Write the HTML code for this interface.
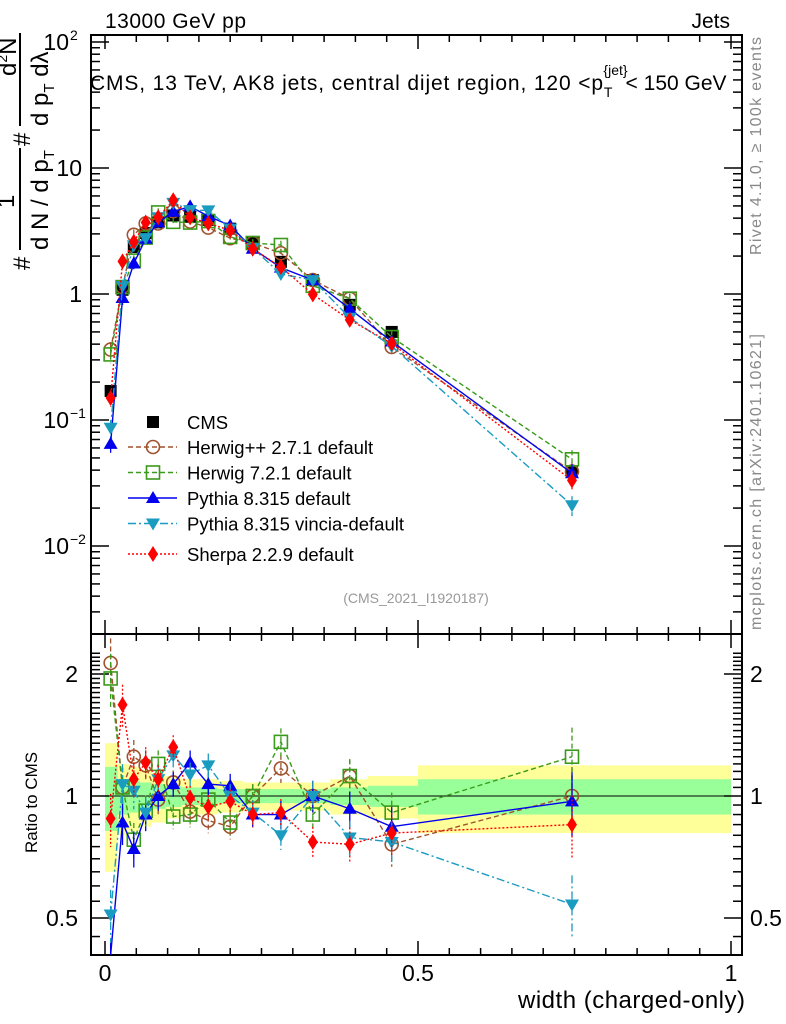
<!DOCTYPE html>
<html><head><meta charset="utf-8"><style>
body{margin:0;background:#fff;}
svg{display:block;font-family:"Liberation Sans",sans-serif;}
</style></head><body>
<svg id="c" width="786" height="1024" viewBox="0 0 786 1024">
<g id="bands"></g>
<g id="grid"></g>
<g id="series"></g>
<text x="105" y="28" font-size="21" textLength="141">13000 GeV pp</text>
<text x="730" y="28" font-size="21" text-anchor="end">Jets</text>
<text x="90" y="90" font-size="21"><tspan textLength="513">CMS, 13 TeV, AK8 jets, central dijet region, 120 &lt;p</tspan><tspan font-size="14" dy="7">T</tspan><tspan font-size="14" dy="-22" dx="-9">{jet}</tspan><tspan dy="15" dx="-2">&lt; 150 GeV</tspan></text>
<text x="416" y="603" font-size="14" fill="#999" text-anchor="middle">(CMS_2021_I1920187)</text>
<text transform="translate(761,255) rotate(-90)" font-size="16" fill="#888" textLength="218">Rivet 4.1.0, ≥ 100k events</text>
<text transform="translate(761,630) rotate(-90)" font-size="16" fill="#888" textLength="296">mcplots.cern.ch [arXiv:2401.10621]</text>
<text transform="translate(37,853) rotate(-90)" font-size="17">Ratio to CMS</text>
<text x="745" y="1008" font-size="24" text-anchor="end" textLength="227">width (charged-only)</text>
<g transform="rotate(-90)" font-size="24">
<text x="-270" y="30">#</text>
<text x="-208" y="14">1</text>
<line x1="-250" y1="20" x2="-148" y2="20" stroke="#000" stroke-width="2"/>
<text x="-250" y="48">d N / d p<tspan font-size="15" dy="6">T</tspan></text>
<text x="-146" y="30">#</text>
<text x="-76" y="16">d<tspan font-size="14" dy="-9">2</tspan><tspan dy="9">N</tspan></text>
<line x1="-126" y1="20" x2="-33" y2="20" stroke="#000" stroke-width="2"/>
<text x="-126" y="48">d p<tspan font-size="15" dy="6">T</tspan><tspan dy="-6"> dλ</tspan></text>
</g>
<g id="legend"></g>
</svg>
<script>
const binEdges=[0,0.02,0.038,0.056,0.075,0.097,0.122,0.15,0.18,0.22,0.25,0.31,0.36,0.42,0.5,1.0];
const xCenters=[0.009,0.028,0.046,0.065,0.085,0.109,0.136,0.165,0.2,0.236,0.281,0.332,0.391,0.458,0.746];
const cmsValues=[0.17,1.08,2.36,3.05,3.7,4.2,4.1,3.87,3.3,2.54,1.8,1.29,0.82,0.5,0.039];
const cmsErr=[0.08,0.06,0.05,0.05,0.04,0.04,0.04,0.04,0.04,0.04,0.05,0.05,0.06,0.07,0.1];
const bandYellow=[0.35,0.2,0.18,0.16,0.14,0.12,0.1,0.1,0.09,0.08,0.08,0.08,0.1,0.12,0.19];
const bandGreen=[0.18,0.1,0.09,0.08,0.07,0.06,0.05,0.05,0.04,0.04,0.04,0.04,0.05,0.06,0.1];
const ratioHerwigpp=[2.13,1.05,1.25,1.19,0.98,1.08,0.915,0.87,0.84,1.0,1.17,1.0,1.12,0.76,1.0];
const ratioHerwig7=[1.95,1.05,0.78,0.92,1.2,0.89,0.9,0.98,0.86,1.0,1.36,0.9,1.12,0.91,1.25];
const ratioPythia=[0.38,0.86,0.74,0.9,1.0,1.07,1.21,1.07,1.06,0.9,0.9,1.0,0.93,0.84,0.97];
const ratioVincia=[0.51,1.07,1.03,0.91,1.1,1.26,1.13,1.19,1.0,0.91,0.8,1.0,0.79,0.77,0.54];
const ratioSherpa=[0.88,1.68,1.1,1.21,1.1,1.32,0.99,0.94,0.97,0.9,0.91,0.77,0.76,0.81,0.85];
const mcErr=[0.15,0.12,0.1,0.09,0.08,0.07,0.07,0.07,0.07,0.07,0.08,0.09,0.1,0.12,0.18];

const NS='http://www.w3.org/2000/svg';
const L=91,R=742,T=35,MB=634,RB=955;
const X=v=>105+626*v;
const Y=v=>294-126*Math.log10(v);
const YR=v=>796-122*Math.log2(v);
function mk(p,tag,a){const e=document.createElementNS(NS,tag);for(const k in a)e.setAttribute(k,a[k]);p.appendChild(e);return e;}
const G=document.getElementById('grid'),B=document.getElementById('bands'),S=document.getElementById('series'),LG=document.getElementById('legend');

for(let i=0;i<xCenters.length;i++){
  const x0=X(binEdges[i]),x1=X(binEdges[i+1]);
  const y=mk(B,'rect',{x:x0,y:YR(1+bandYellow[i]),width:x1-x0,height:YR(1-bandYellow[i])-YR(1+bandYellow[i]),fill:'#ffff99'});
  
  
  const g=mk(B,'rect',{x:x0,y:YR(1+bandGreen[i]),width:x1-x0,height:YR(1-bandGreen[i])-YR(1+bandGreen[i]),fill:'#99ff99'});
  
  
}
mk(G,'rect',{x:L,y:T,width:R-L,height:MB-T,fill:'none',stroke:'#000','stroke-width':2});
mk(G,'rect',{x:L,y:MB,width:R-L,height:RB-MB,fill:'none',stroke:'#000','stroke-width':2});
mk(G,'line',{x1:L,x2:R,y1:YR(1),y2:YR(1),stroke:'#000','stroke-width':1});
for(let k=0;k<=20;k++){const v=k*0.05,x=X(v),len=(k%10==0)?14:7;
  if(x<L||x>R)continue;
  mk(G,'line',{x1:x,x2:x,y1:RB,y2:RB-len,stroke:'#000','stroke-width':1.5});
  mk(G,'line',{x1:x,x2:x,y1:MB,y2:MB+len,stroke:'#000','stroke-width':1.5});
  mk(G,'line',{x1:x,x2:x,y1:T,y2:T+len,stroke:'#000','stroke-width':1.5});
  mk(G,'line',{x1:x,x2:x,y1:MB,y2:MB-len,stroke:'#000','stroke-width':1.5});}
[['0',0],['0.5',0.5],['1',1]].forEach(([t,v])=>{const e=mk(G,'text',{x:X(v),y:981,'font-size':23,'text-anchor':'middle'});e.textContent=t;});
for(let d=-3;d<=2;d++)for(let m=1;m<10;m++){const v=m*Math.pow(10,d),y=Y(v);if(y<T||y>MB)continue;
  const len=m==1?18:9;
  mk(G,'line',{x1:L,x2:L+len,y1:y,y2:y,stroke:'#000','stroke-width':1.5});
  mk(G,'line',{x1:R,x2:R-len,y1:y,y2:y,stroke:'#000','stroke-width':1.5});}
[['10','2',100],['10','',10],['1','',1],['10','−1',0.1],['10','−2',0.01]].forEach(([b,s,v])=>{
  const e=mk(G,'text',{x:s?69:82,y:Y(v)+8,'font-size':23,'text-anchor':'end'});e.textContent=b;
  if(s){const t=mk(G,'text',{x:70,y:Y(v)-2,'font-size':14});t.textContent=s;}});
for(let k=0;k<40;k++){const v=0.4+k*0.05;if(v>2.3)break;const y=YR(v);if(y<MB+2||y>RB)continue;
  const major=Math.abs(v-0.5)<1e-6||Math.abs(v-1)<1e-6||Math.abs(v-2)<1e-6;const len=major?18:9;
  mk(G,'line',{x1:L,x2:L+len,y1:y,y2:y,stroke:'#000','stroke-width':1.5});
  mk(G,'line',{x1:R,x2:R-len,y1:y,y2:y,stroke:'#000','stroke-width':1.5});}
[['2',2],['1',1],['0.5',0.5]].forEach(([t,v])=>{
  const a=mk(G,'text',{x:78,y:YR(v)+8,'font-size':23,'text-anchor':'end'});a.textContent=t;
  const b=mk(G,'text',{x:750,y:YR(v)+8,'font-size':23});b.textContent=t;});

function marker(p,type,x,y,col){
  let e;
  if(type=='sq') e=mk(p,'rect',{x:x-6,y:y-6,width:12,height:12,fill:'#000'});
  else if(type=='circ') e=mk(p,'circle',{cx:x,cy:y,r:6.5,fill:'none',stroke:col,'stroke-width':1.6});
  else if(type=='osq') e=mk(p,'rect',{x:x-6.5,y:y-6.5,width:13,height:13,fill:'none',stroke:col,'stroke-width':1.6});
  else if(type=='tri') e=mk(p,'polygon',{points:`${x},${y-7} ${x-7},${y+5} ${x+7},${y+5}`,fill:col});
  else if(type=='itri') e=mk(p,'polygon',{points:`${x},${y+7} ${x-7},${y-5} ${x+7},${y-5}`,fill:col});
  else e=mk(p,'polygon',{points:`${x},${y-8} ${x-5},${y} ${x},${y+8} ${x+5},${y}`,fill:col});
  return e;
}
const series=[
  {name:'Herwig++ 2.7.1 default',r:ratioHerwigpp,col:'#a0522d',m:'circ',dash:'5,3'},
  {name:'Herwig 7.2.1 default',r:ratioHerwig7,col:'#3a9a1a',m:'osq',dash:'5,3'},
  {name:'Pythia 8.315 default',r:ratioPythia,col:'#0000ee',m:'tri',dash:''},
  {name:'Pythia 8.315 vincia-default',r:ratioVincia,col:'#1a9bc0',m:'itri',dash:'8,3,2,3'},
  {name:'Sherpa 2.2.9 default',r:ratioSherpa,col:'#ff0000',m:'dia',dash:'2,2'}
];
function clipY(y,lo,hi){return Math.max(lo,Math.min(hi,y));}
series.forEach((s,si)=>{
  const g=mk(S,'g',{});
  
  
  const vals=cmsValues.map((c,i)=>c*s.r[i]);
  const pm=vals.map((v,i)=>X(xCenters[i])+','+Y(v)).join(' ');
  mk(g,'polyline',{points:pm,fill:'none',stroke:s.col,'stroke-width':1.4,'stroke-dasharray':s.dash});
  const pr=s.r.map((v,i)=>X(xCenters[i])+','+clipY(YR(v),MB,RB)).join(' ');
  mk(g,'polyline',{points:pr,fill:'none',stroke:s.col,'stroke-width':1.4,'stroke-dasharray':s.dash});
  vals.forEach((v,i)=>{const x=X(xCenters[i]);
    mk(g,'line',{x1:x,x2:x,y1:Y(v*(1+mcErr[i])),y2:Y(v*(1-mcErr[i])),stroke:s.col,'stroke-width':1.3,'stroke-dasharray':s.dash});
    const m=marker(g,s.m,x,Y(v),s.col);
    
    
    const rv=s.r[i];
    mk(g,'line',{x1:x,x2:x,y1:clipY(YR(rv*(1+mcErr[i])),MB,RB),y2:clipY(YR(rv*(1-mcErr[i])),MB,RB),stroke:s.col,'stroke-width':1.3,'stroke-dasharray':s.dash});
    const yr=YR(rv);
    if(yr>MB&&yr<RB){const m2=marker(g,s.m,x,yr,s.col);
      
      }
  });
  const ly=447+si*25.5+(si==4?5:0);
  mk(LG,'line',{x1:128,x2:177,y1:ly,y2:ly,stroke:s.col,'stroke-width':1.4,'stroke-dasharray':s.dash});
  const lm=marker(LG,s.m,153,ly,s.col);
  
  
  const t=mk(LG,'text',{x:187,y:ly+7,'font-size':18.5});t.textContent=s.name;
  
  
});
const cg=mk(S,'g',{});


cmsValues.forEach((v,i)=>{const x=X(xCenters[i]);
  mk(cg,'line',{x1:x,x2:x,y1:Y(v*(1+cmsErr[i])),y2:Y(v*(1-cmsErr[i])),stroke:'#000','stroke-width':1.3});
  const m=marker(cg,'sq',x,Y(v),'#000');
  
  });
S.insertBefore(cg,S.firstChild);
marker(LG,'sq',153,422,'#000');
const ct=mk(LG,'text',{x:187,y:429,'font-size':18.5});ct.textContent='CMS';


</script>
</body></html>
